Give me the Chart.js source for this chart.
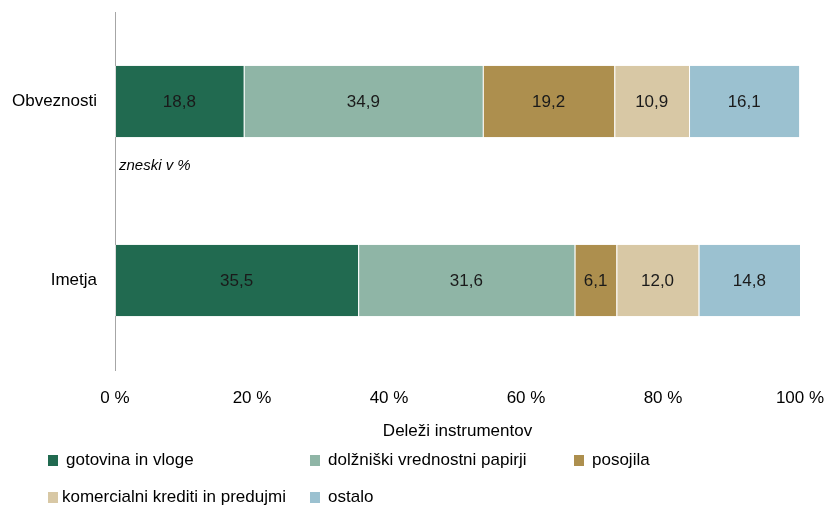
<!DOCTYPE html>
<html>
<head>
<meta charset="utf-8">
<script src="https://cdn.jsdelivr.net/npm/chart.js"></script>
<style>
  html, body { margin: 0; padding: 0; background: #fff; }
  #wrap { position: relative; width: 827px; height: 506px; }
  #legend { position: absolute; left: 0; top: 0; width: 827px; height: 506px; pointer-events: none;
    font-family: 'Liberation Sans Narrow', 'Arial Narrow', 'Liberation Sans', sans-serif; font-size: 17px; color: #000; }
  .item { position: absolute; white-space: nowrap; line-height: 20px; }
  .box { position: absolute; width: 10px; height: 11px; }
</style>
</head>
<body>
<div id="wrap">
  <canvas id="chart" width="827" height="506"></canvas>
  <div id="legend"></div>
</div>

<script>
    var FONT = "'Liberation Sans Narrow', 'Arial Narrow', 'Liberation Sans', sans-serif";

    // categories (top to bottom)
    var categories = ['Obveznosti', 'Imetja'];

    // series values, shares in %
    var gotovina = [18.8, 35.5];
    var dolzniski = [34.9, 31.6];
    var posojila = [19.2, 6.1];
    var komercialni = [10.9, 12.0];
    var ostalo = [16.1, 14.8];

    var seriesNames = ['gotovina in vloge', 'dolžniški vrednostni papirji', 'posojila', 'komercialni krediti in predujmi', 'ostalo'];
    var seriesColors = ['#216a50', '#8fb5a6', '#ad8f4e', '#d8c8a5', '#9bc1d0'];
    var seriesData = [gotovina, dolzniski, posojila, komercialni, ostalo];

    var xTicks = [0, 20, 40, 60, 80, 100];
    var xTitle = 'Deleži instrumentov';
    var note = 'zneski v %';

    // legend placement (grid like the original): box x, row top, text x
    var legendPos = [[48, 450, 66], [310, 450, 328], [574, 450, 592], [48, 487, 62], [310, 487, 328]];

    var legend = document.getElementById('legend');
    seriesNames.forEach(function(name, i) {
        var p = legendPos[i];
        var box = document.createElement('div');
        box.className = 'box';
        box.style.left = p[0] + 'px';
        box.style.top = (p[1] + 5) + 'px';
        box.style.background = seriesColors[i];
        legend.appendChild(box);
        var t = document.createElement('div');
        t.className = 'item';
        t.style.left = p[2] + 'px';
        t.style.top = p[1] + 'px';
        t.textContent = name;
        legend.appendChild(t);
    });

    var labelPlugin = {
        id: 'segLabels',
        afterDatasetsDraw: function(chart) {
            var ctx = chart.ctx;
            ctx.save();
            ctx.font = '17px ' + FONT;
            ctx.fillStyle = '#1a1a1a';
            ctx.textAlign = 'center';
            ctx.textBaseline = 'middle';
            chart.data.datasets.forEach(function(ds, i) {
                chart.getDatasetMeta(i).data.forEach(function(bar, j) {
                    var x = (bar.x + bar.base) / 2;
                    ctx.fillText(ds.data[j].toFixed(1).replace('.', ','), x, bar.y + 1);
                });
            });
            // note under the first bar
            ctx.font = 'italic 15px ' + FONT;
            ctx.textAlign = 'left';
            ctx.fillStyle = '#000';
            ctx.fillText(note, chart.scales.x.getPixelForValue(0) + 4, 166);
            ctx.restore();
        }
    };

    new Chart(document.getElementById('chart'), {
        type: 'bar',
        data: {
            labels: categories,
            datasets: seriesData.map(function(d, i) {
                return {
                    label: seriesNames[i],
                    data: d,
                    backgroundColor: seriesColors[i],
                    borderColor: 'rgba(255,255,255,0.6)',
                    borderWidth: { left: 1, right: 0, top: 0, bottom: 0 },
                    borderSkipped: false,
                    categoryPercentage: 0.4,
                    barPercentage: 1.0
                };
            })
        },
        options: {
            indexAxis: 'y',
            responsive: false,
            animation: false,
            layout: { padding: { top: 12, right: 27, bottom: 56, left: 0 } },
            plugins: {
                legend: { display: false },
                tooltip: { enabled: false }
            },
            scales: {
                x: {
                    stacked: true,
                    min: 0,
                    max: 100,
                    afterBuildTicks: function(scale) {
                        scale.ticks = xTicks.map(function(v) { return { value: v }; });
                    },
                    afterFit: function(scale) {
                        scale.height = 80;
                        scale.paddingLeft = 0;
                        scale.paddingRight = 0;
                    },
                    grid: { display: false, drawTicks: false },
                    border: { display: false },
                    ticks: {
                        padding: 18,
                        color: '#000',
                        font: { family: FONT, size: 17 },
                        callback: function(v) { return v + ' %'; }
                    },
                    title: {
                        display: true,
                        text: xTitle,
                        color: '#000',
                        font: { family: FONT, size: 17 },
                        padding: { top: 0, bottom: 8 }
                    }
                },
                y: {
                    stacked: true,
                    afterFit: function(scale) {
                        scale.width = 115;
                        scale.paddingTop = 0;
                        scale.paddingBottom = 0;
                    },
                    grid: { display: false, drawTicks: false },
                    border: { display: true, color: '#a6a6a6', width: 1 },
                    ticks: {
                        padding: 18,
                        color: '#000',
                        font: { family: FONT, size: 17 }
                    }
                }
            }
        },
        plugins: [labelPlugin]
    });
</script>
</body>
</html>
